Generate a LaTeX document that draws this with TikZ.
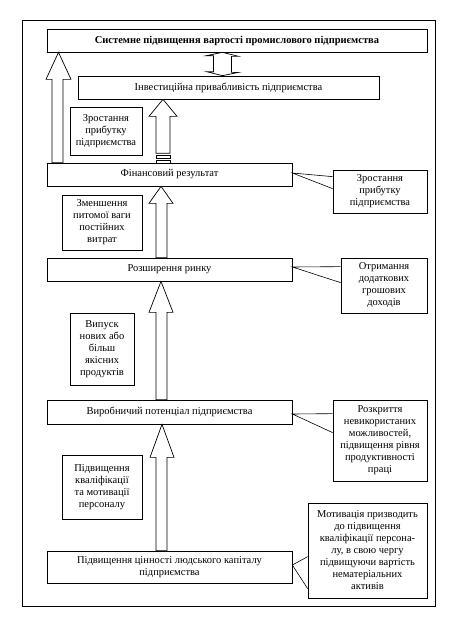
\documentclass[tikz,border=0pt]{standalone}
\usepackage{fontspec}
\setmainfont{Liberation Serif}
\usetikzlibrary{calc}
\newcommand{\blockup}[7]{%
  \path (#6) ++(0,-#7) coordinate (hb);
  \pgfmathsetmacro{\bc}{(#3+#4)/2}
  \draw[arrowline] (#1,0 |- #5) -- (#1,0 |- hb) -- (#3,0 |- hb) -- (\bc,0 |- #6) -- (#4,0 |- hb) -- (#2,0 |- hb) -- (#2,0 |- #5) -- cycle;}
\begin{document}
\begin{tikzpicture}[x=1pt,y=1pt,
  box/.style={draw,line width=0.7pt,inner sep=0pt,align=center,font=\fontsize{10.5}{12}\selectfont,fill=white},
  arrowline/.style={draw,line width=0.7pt,fill=white,line join=miter},
  callout/.style={draw,line width=0.6pt}]
\useasboundingbox (0,0) rectangle (454,-621);
\fill[white] (0,0) rectangle (454,-621);
\draw[line width=0.8pt] (22,-20) rectangle (435,-606);
% main boxes
\node[box,minimum width=380,minimum height=23,font=\fontsize{10.5}{12}\selectfont\bfseries] (top) at (237,-40.5) {Системне підвищення вартості промислового підприємства};
\node[box,minimum width=301,minimum height=23] (inv) at (228.5,-87.5) {Інвестиційна привабливість підприємства};
\node[box,minimum width=245,minimum height=23] (fin) at (169.5,-174.5) {Фінансовий результат};
\node[box,minimum width=245,minimum height=23] (roz) at (169.5,-269.5) {Розширення ринку};
\node[box,minimum width=245,minimum height=24] (vyr) at (169.5,-412) {Виробничий потенціал підприємства};
\node[box,minimum width=245,minimum height=32] (cin) at (169.5,-567) {Підвищення цінності людського капіталу\\підприємства};
% left labels
\node[box,minimum width=72,minimum height=48] (lz) at (106,-131) {Зростання\\прибутку\\підприємства};
\node[box,minimum width=80,minimum height=55] (zm) at (102,-222.5) {Зменшення\\питомої ваги\\постійних\\витрат};
\node[box,minimum width=64,minimum height=72] (vyp) at (102,-349) {Випуск\\нових або\\більш\\якісних\\продуктів};
\node[box,minimum width=80,minimum height=64] (pidv) at (102,-487) {Підвищення\\кваліфікації\\та мотивації\\персоналу};
% right labels
\node[box,minimum width=94,minimum height=43] (rz) at (380,-191.5) {Зростання\\прибутку\\підприємства};
\node[box,minimum width=86,minimum height=55] (otr) at (384,-285.5) {Отримання\\додаткових\\грошових\\доходів};
\node[box,minimum width=94,minimum height=81] (rozk) at (380,-440.5) {Розкриття\\невикористаних\\можливостей,\\підвищення рівня\\продуктивності\\праці};
\node[box,minimum width=119,minimum height=95] (mot) at (367.5,-550.5) {Мотивація призводить\\до підвищення\\кваліфікації персона-\\лу, в свою чергу\\підвищуючи вартість\\нематеріальних\\активів};
% callouts
\coordinate (cf) at ($(fin.east)+(0,1.5)$);
\draw[callout] ($(rz.north west)+(0,-7)$) -- (cf) -- ($(rz.north west)+(0,-19)$);
\coordinate (cr) at ($(roz.east)+(0,2.5)$);
\draw[callout] ($(otr.north west)+(0,-9)$) -- (cr) -- ($(otr.north west)+(0,-25)$);
\coordinate (cv) at ($(vyr.east)+(0,-2)$);
\draw[callout] ($(rozk.north west)+(0,-14)$) -- (cv) -- ($(rozk.north west)+(0,-33)$);
\coordinate (cc) at ($(cin.east)+(0,2)$);
\draw[callout] ($(mot.north west)+(0,-54)$) -- (cc) -- ($(mot.north west)+(0,-86)$);
% block arrows
\blockup{52}{63}{46}{71}{fin.north}{top.south}{27}
\coordinate (ms) at (163,-153.3);
\blockup{156}{170}{149}{177}{ms}{inv.south}{17}
\draw[line width=0.7pt] (156,-155) rectangle (170,-158.3);
\draw[line width=0.7pt] (156,-160) rectangle (170,-163);
\blockup{156}{167}{149}{173}{roz.north}{fin.south}{17}
\blockup{156}{167}{149}{173}{vyr.north}{roz.south}{31}
\blockup{156}{167}{150}{174}{cin.north}{vyr.south}{33}
% double arrow between top and inv
\draw[arrowline] (222.5,0 |- top.south) -- ++(16,-4) -- ++(-7,0) -- ++(0,-16) -- ++(7,0) -- (222.5,0 |- inv.north) -- ++(-16,4) -- ++(7,0) -- ++(0,16) -- ++(-7,0) -- cycle;
\end{tikzpicture}
\end{document}
